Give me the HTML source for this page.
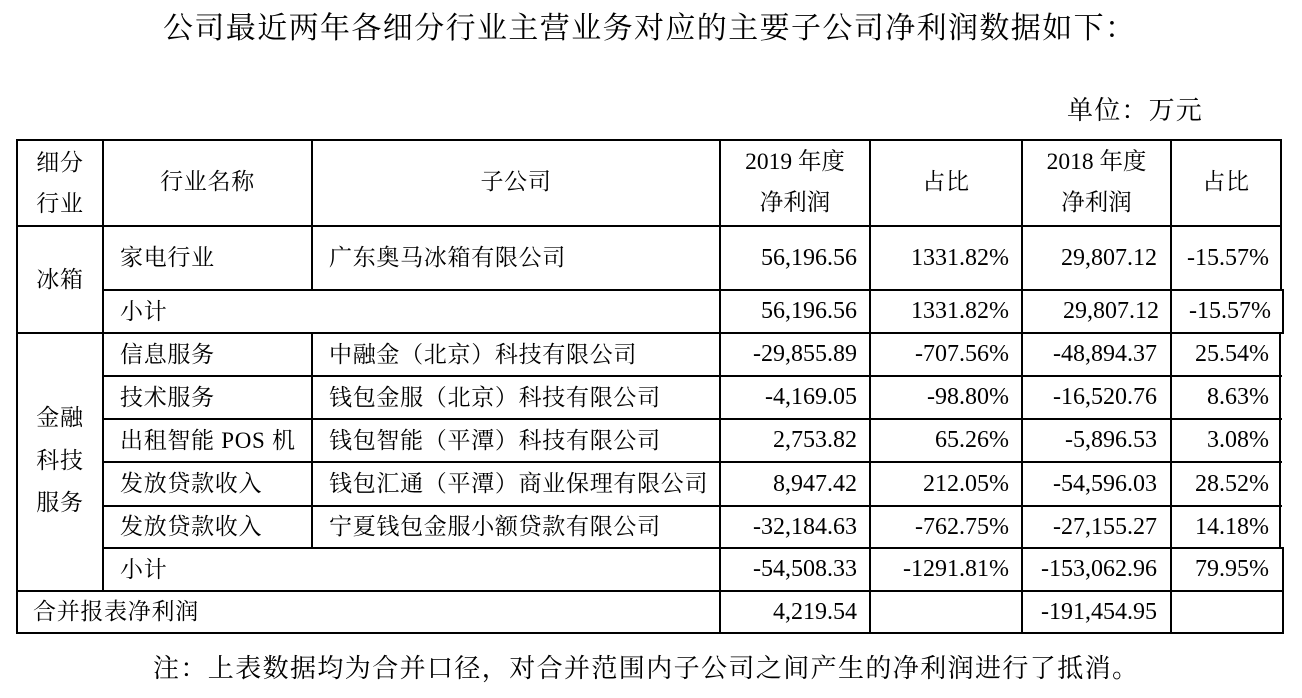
<!DOCTYPE html>
<html>
<head>
<meta charset="utf-8">
<style>
html,body{margin:0;padding:0;background:#fff;}
body{width:1302px;height:698px;position:relative;overflow:hidden;
 font-family:"Liberation Serif","Noto Serif CJK SC","Noto Sans CJK SC",serif;color:#000;}
.h{position:absolute;height:2px;background:#000;}
.v{position:absolute;width:2px;background:#000;}
.t{position:absolute;white-space:nowrap;font-size:23px;letter-spacing:0.7px;}
.n{position:absolute;white-space:nowrap;font-size:24px;text-align:right;}
.c{text-align:center;}
</style>
</head>
<body>

<div class="t" style="left:163px;top:9px;font-size:30px;letter-spacing:1.4px;line-height:40px;">公司最近两年各细分行业主营业务对应的主要子公司净利润数据如下：</div>
<div class="t" style="left:1067px;top:91px;font-size:26px;letter-spacing:1.2px;line-height:40px;">单位：万元</div>

<!-- horizontal lines -->
<div class="h" style="left:16px;width:1266px;top:139px;"></div>
<div class="h" style="left:16px;width:1266px;top:225px;"></div>
<div class="h" style="left:102px;width:1182px;top:289px;"></div>
<div class="h" style="left:16px;width:1268px;top:332px;"></div>
<div class="h" style="left:102px;width:1180px;top:375px;"></div>
<div class="h" style="left:102px;width:1180px;top:418px;"></div>
<div class="h" style="left:102px;width:1180px;top:461px;"></div>
<div class="h" style="left:102px;width:1180px;top:505px;"></div>
<div class="h" style="left:102px;width:1182px;top:547px;"></div>
<div class="h" style="left:16px;width:1268px;top:590px;"></div>
<div class="h" style="left:16px;width:1268px;top:632px;"></div>

<!-- vertical lines -->
<div class="v" style="left:16px;top:139px;height:495px;"></div>
<div class="v" style="left:102px;top:139px;height:453px;"></div>
<div class="v" style="left:311px;top:139px;height:152px;"></div>
<div class="v" style="left:311px;top:332px;height:217px;"></div>
<div class="v" style="left:719px;top:139px;height:495px;"></div>
<div class="v" style="left:869px;top:139px;height:495px;"></div>
<div class="v" style="left:1021px;top:139px;height:495px;"></div>
<div class="v" style="left:1170px;top:139px;height:495px;"></div>
<div class="v" style="left:1280px;top:139px;height:152px;"></div>
<div class="v" style="left:1282px;top:289px;height:45px;"></div>
<div class="v" style="left:1279px;top:332px;height:217px;"></div>
<div class="v" style="left:1282px;top:547px;height:87px;"></div>

<!-- header -->
<div class="t c" style="left:17px;width:86px;top:142px;line-height:41px;">细分<br>行业</div>
<div class="t c" style="left:103px;width:209px;top:140px;height:86px;line-height:84px;">行业名称</div>
<div class="t c" style="left:312px;width:408px;top:140px;height:86px;line-height:84px;">子公司</div>
<div class="t c" style="left:720px;width:150px;top:142px;line-height:41px;font-size:23.5px;letter-spacing:0;">2019 年度<br>净利润</div>
<div class="t c" style="left:870px;width:152px;top:140px;height:86px;line-height:84px;">占比</div>
<div class="t c" style="left:1022px;width:149px;top:142px;line-height:41px;font-size:23.5px;letter-spacing:0;">2018 年度<br>净利润</div>
<div class="t c" style="left:1171px;width:110px;top:140px;height:86px;line-height:84px;">占比</div>

<!-- 冰箱 section -->
<div class="t c" style="left:17px;width:86px;top:226px;line-height:107px;">冰箱</div>
<div class="t" style="left:120px;top:226px;line-height:64px;">家电行业</div>
<div class="t" style="left:329px;top:226px;line-height:64px;">广东奥马冰箱有限公司</div>
<div class="n" style="right:445px;top:226px;line-height:64px;">56,196.56</div>
<div class="n" style="right:293px;top:226px;line-height:64px;">1331.82%</div>
<div class="n" style="right:145px;top:226px;line-height:64px;">29,807.12</div>
<div class="n" style="right:33px;top:226px;line-height:64px;">-15.57%</div>

<div class="t" style="left:120px;top:290px;line-height:43px;">小计</div>
<div class="n" style="right:445px;top:290px;line-height:43px;">56,196.56</div>
<div class="n" style="right:293px;top:290px;line-height:43px;">1331.82%</div>
<div class="n" style="right:143px;top:290px;line-height:43px;">29,807.12</div>
<div class="n" style="right:31px;top:290px;line-height:43px;">-15.57%</div>

<!-- 金融科技服务 section -->
<div class="t c" style="left:17px;width:86px;top:397px;line-height:42.5px;">金融<br>科技<br>服务</div>

<div class="t" style="left:120px;top:333px;line-height:43px;">信息服务</div>
<div class="t" style="left:329px;top:333px;line-height:43px;">中融金（北京）科技有限公司</div>
<div class="n" style="right:445px;top:333px;line-height:43px;">-29,855.89</div>
<div class="n" style="right:293px;top:333px;line-height:43px;">-707.56%</div>
<div class="n" style="right:145px;top:333px;line-height:43px;">-48,894.37</div>
<div class="n" style="right:33px;top:333px;line-height:43px;">25.54%</div>

<div class="t" style="left:120px;top:376px;line-height:43px;">技术服务</div>
<div class="t" style="left:329px;top:376px;line-height:43px;">钱包金服（北京）科技有限公司</div>
<div class="n" style="right:445px;top:376px;line-height:43px;">-4,169.05</div>
<div class="n" style="right:293px;top:376px;line-height:43px;">-98.80%</div>
<div class="n" style="right:145px;top:376px;line-height:43px;">-16,520.76</div>
<div class="n" style="right:33px;top:376px;line-height:43px;">8.63%</div>

<div class="t" style="left:120px;top:419px;line-height:43px;">出租智能 POS 机</div>
<div class="t" style="left:329px;top:419px;line-height:43px;">钱包智能（平潭）科技有限公司</div>
<div class="n" style="right:445px;top:419px;line-height:43px;">2,753.82</div>
<div class="n" style="right:293px;top:419px;line-height:43px;">65.26%</div>
<div class="n" style="right:145px;top:419px;line-height:43px;">-5,896.53</div>
<div class="n" style="right:33px;top:419px;line-height:43px;">3.08%</div>

<div class="t" style="left:120px;top:462px;line-height:44px;">发放贷款收入</div>
<div class="t" style="left:329px;top:462px;line-height:44px;">钱包汇通（平潭）商业保理有限公司</div>
<div class="n" style="right:445px;top:462px;line-height:44px;">8,947.42</div>
<div class="n" style="right:293px;top:462px;line-height:44px;">212.05%</div>
<div class="n" style="right:145px;top:462px;line-height:44px;">-54,596.03</div>
<div class="n" style="right:33px;top:462px;line-height:44px;">28.52%</div>

<div class="t" style="left:120px;top:506px;line-height:42px;">发放贷款收入</div>
<div class="t" style="left:329px;top:506px;line-height:42px;">宁夏钱包金服小额贷款有限公司</div>
<div class="n" style="right:445px;top:506px;line-height:42px;">-32,184.63</div>
<div class="n" style="right:293px;top:506px;line-height:42px;">-762.75%</div>
<div class="n" style="right:145px;top:506px;line-height:42px;">-27,155.27</div>
<div class="n" style="right:33px;top:506px;line-height:42px;">14.18%</div>

<div class="t" style="left:120px;top:548px;line-height:43px;">小计</div>
<div class="n" style="right:445px;top:548px;line-height:43px;">-54,508.33</div>
<div class="n" style="right:293px;top:548px;line-height:43px;">-1291.81%</div>
<div class="n" style="right:145px;top:548px;line-height:43px;">-153,062.96</div>
<div class="n" style="right:33px;top:548px;line-height:43px;">79.95%</div>

<!-- 合并 -->
<div class="t" style="left:33px;top:591px;line-height:42px;">合并报表净利润</div>
<div class="n" style="right:445px;top:591px;line-height:42px;">4,219.54</div>
<div class="n" style="right:145px;top:591px;line-height:42px;">-191,454.95</div>

<div class="t" style="left:153px;top:649px;font-size:26px;letter-spacing:1.4px;line-height:40px;">注：上表数据均为合并口径，对合并范围内子公司之间产生的净利润进行了抵消。</div>

</body>
</html>
